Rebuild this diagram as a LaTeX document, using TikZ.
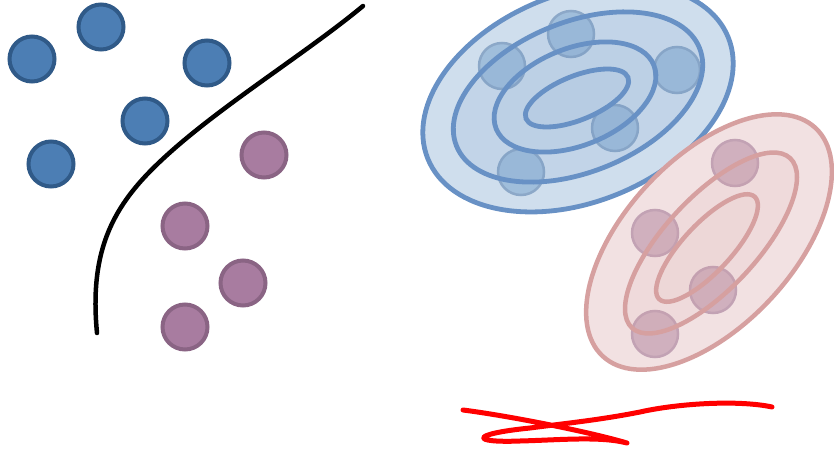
\documentclass[tikz,border=0pt]{standalone}
\definecolor{bluedot}{RGB}{76,126,180}
\definecolor{bluedotedge}{RGB}{48,90,136}
\definecolor{purpledot}{RGB}{168,124,160}
\definecolor{purpledotedge}{RGB}{138,100,132}
\definecolor{blueline}{RGB}{104,145,197}
\definecolor{bluefill}{RGB}{207,222,237}
\definecolor{bluecirc}{RGB}{160,190,219}
\definecolor{bluecircedge}{RGB}{140,168,200}
\definecolor{redline}{RGB}{214,160,160}
\definecolor{redfill}{RGB}{242,225,226}
\definecolor{redcirc}{RGB}{208,176,190}
\definecolor{redcircedge}{RGB}{194,162,180}
\definecolor{scribble}{RGB}{255,0,0}
\tikzset{
  bluept/.style={fill=bluedot,draw=bluedotedge,line width=4pt},
  purplept/.style={fill=purpledot,draw=purpledotedge,line width=4pt},
  bluesoft/.style={fill=bluecirc,draw=bluecircedge,line width=2.5pt},
  redsoft/.style={fill=redcirc,draw=redcircedge,line width=2.5pt},
  bluering/.style={draw=blueline,line width=4.8pt},
  redring/.style={draw=redline,line width=4.5pt},
  boundary/.style={draw=black,line width=4.5pt,line cap=round},
  scrib/.style={draw=scribble,line width=5pt,line cap=round,line join=round}
}
\begin{document}
\begin{tikzpicture}[x=1pt,y=-1pt]
\useasboundingbox (0,0) rectangle (834,449);

% ---------- left: separated classes ----------
\path[bluept] (32,59) circle (22.5);
\path[bluept] (101,27) circle (22.5);
\path[bluept] (207,63) circle (22.5);
\path[bluept] (145,121) circle (22.5);
\path[bluept] (51,164) circle (22.5);

\path[purplept] (264,155) circle (22.5);
\path[purplept] (185,226) circle (22.5);
\path[purplept] (243,283) circle (22.5);
\path[purplept] (185,327) circle (22.5);

\path[boundary] (363,6) .. controls (310,50) and (230,100) .. (175,148)
   .. controls (120,196) and (88,240) .. (97,333);

% ---------- right: blue density ----------
\fill[bluefill,rotate around={22:(578,98)}] (578,98) ellipse (162 and 104);
\path[bluesoft] (502,66) circle (23);
\path[bluesoft] (571,34) circle (23);
\path[bluesoft] (677,70) circle (23);
\path[bluesoft] (615,128) circle (23);
\path[bluesoft] (521,172) circle (23);
\fill[blueline,fill opacity=0.12,rotate around={22:(578,97)}] (578,97) ellipse (131 and 75);
\fill[blueline,fill opacity=0.06,rotate around={22:(575,97)}] (575,97) ellipse (85 and 48.5);
\fill[blueline,fill opacity=0.05,rotate around={22:(577,98)}] (577,98) ellipse (55 and 22);
\path[bluering,rotate around={22:(578,98)}] (578,98) ellipse (162 and 104);
\path[bluering,rotate around={22:(578,97)}] (578,97) ellipse (131 and 75);
\path[bluering,rotate around={22:(575,97)}] (575,97) ellipse (85 and 48.5);
\path[bluering,rotate around={22:(577,98)}] (577,98) ellipse (55 and 22);

% ---------- right: red density ----------
\fill[redfill,rotate around={47:(709,242)}] (709,242) ellipse (156 and 84);
\path[redsoft] (735,163) circle (23);
\path[redsoft] (655,233) circle (23);
\path[redsoft] (713,290) circle (23);
\path[redsoft] (655,334) circle (23);
\fill[redline,fill opacity=0.1,rotate around={47:(711,243)}] (711,243) ellipse (116 and 46);
\fill[redline,fill opacity=0.05,rotate around={47:(707,248)}] (707,248) ellipse (70 and 24);
\path[redring,rotate around={47:(709,242)}] (709,242) ellipse (156 and 84);
\path[redring,rotate around={47:(711,243)}] (711,243) ellipse (116 and 46);
\path[redring,rotate around={47:(707,248)}] (707,248) ellipse (70 and 24);

% ---------- red scribble ----------
\path[scrib] (772,407) .. controls (740,400) and (680,403) .. (640,412)
   .. controls (600,420) and (560,424) .. (530,428)
   .. controls (470,434) and (470,443) .. (520,441)
   .. controls (560,440) and (600,436) .. (627,443)
   .. controls (590,432) and (510,416) .. (463,410);
\end{tikzpicture}
\end{document}
